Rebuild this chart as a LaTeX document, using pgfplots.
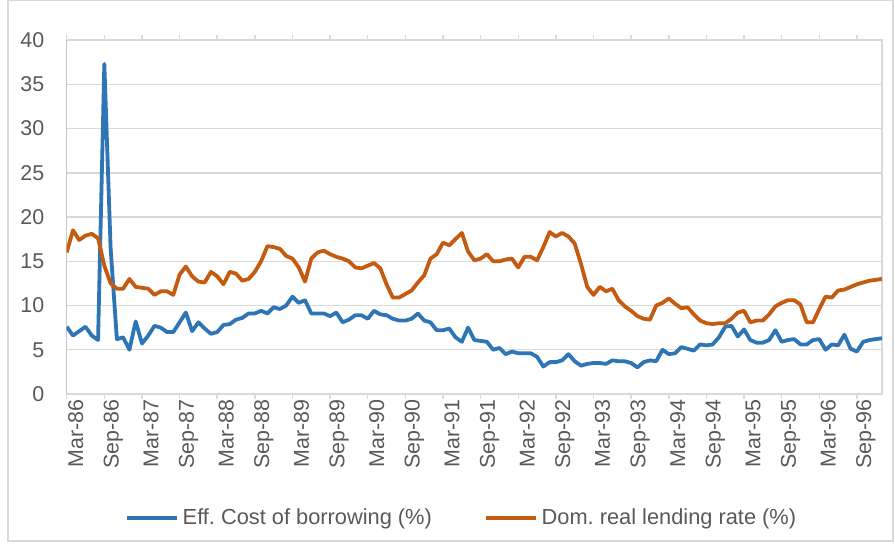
\documentclass[border=0pt]{standalone}
\usepackage{pgfplots}
\usepackage{pgfplotstable}
\usepackage{fontspec}
\setmainfont{Liberation Sans}
\pgfplotsset{compat=1.18}
\definecolor{effblue}{HTML}{2E75B6}
\definecolor{domorange}{HTML}{C55A11}
\definecolor{txtgray}{HTML}{595959}
\definecolor{gridgray}{HTML}{D9D9D9}
\definecolor{axgray}{HTML}{A6A6A6}
\pgfplotstableread{
i eff dom
0 7.6 16.0
1 6.6 18.5
2 7.1 17.4
3 7.6 17.9
4 6.6 18.1
5 6.1 17.6
6 37.3 14.5
7 16.5 12.5
8 6.2 11.9
9 6.4 11.9
10 5.0 13.0
11 8.2 12.1
12 5.7 12.0
13 6.6 11.9
14 7.7 11.2
15 7.5 11.6
16 7.0 11.6
17 7.0 11.2
18 8.1 13.5
19 9.2 14.4
20 7.1 13.3
21 8.1 12.7
22 7.4 12.6
23 6.8 13.8
24 7.0 13.3
25 7.8 12.4
26 7.9 13.8
27 8.4 13.6
28 8.6 12.8
29 9.1 13.0
30 9.1 13.8
31 9.4 15.0
32 9.1 16.7
33 9.8 16.6
34 9.6 16.4
35 10.0 15.6
36 11.0 15.3
37 10.3 14.3
38 10.6 12.7
39 9.1 15.3
40 9.1 16.0
41 9.1 16.2
42 8.8 15.8
43 9.2 15.5
44 8.1 15.3
45 8.4 15.0
46 8.9 14.3
47 8.9 14.2
48 8.5 14.5
49 9.4 14.8
50 9.0 14.2
51 8.9 12.4
52 8.5 10.9
53 8.3 10.9
54 8.3 11.3
55 8.5 11.7
56 9.1 12.6
57 8.3 13.4
58 8.1 15.3
59 7.2 15.8
60 7.2 17.1
61 7.4 16.8
62 6.4 17.5
63 5.9 18.2
64 7.5 16.1
65 6.1 15.1
66 6.0 15.3
67 5.9 15.8
68 5.0 15.0
69 5.2 15.0
70 4.5 15.2
71 4.8 15.3
72 4.6 14.3
73 4.6 15.5
74 4.6 15.5
75 4.2 15.1
76 3.1 16.6
77 3.6 18.3
78 3.6 17.8
79 3.8 18.2
80 4.5 17.8
81 3.7 17.0
82 3.2 14.7
83 3.4 12.1
84 3.5 11.2
85 3.5 12.1
86 3.4 11.6
87 3.8 11.9
88 3.7 10.6
89 3.7 9.9
90 3.5 9.4
91 3.0 8.8
92 3.6 8.5
93 3.8 8.4
94 3.7 10.0
95 5.0 10.3
96 4.5 10.8
97 4.6 10.2
98 5.3 9.7
99 5.1 9.8
100 4.9 9.0
101 5.6 8.3
102 5.5 8.0
103 5.6 7.9
104 6.4 8.0
105 7.6 8.0
106 7.7 8.5
107 6.5 9.2
108 7.3 9.4
109 6.1 8.1
110 5.8 8.3
111 5.8 8.3
112 6.1 9.0
113 7.2 9.9
114 5.9 10.3
115 6.1 10.6
116 6.2 10.6
117 5.6 10.1
118 5.6 8.1
119 6.1 8.1
120 6.2 9.6
121 5.0 11.0
122 5.6 10.9
123 5.5 11.7
124 6.7 11.8
125 5.1 12.1
126 4.8 12.4
127 5.9 12.6
128 6.1 12.8
129 6.2 12.9
130 6.3 13.0
}\datatable
\begin{document}
\begin{tikzpicture}
\useasboundingbox (0,0) rectangle (447.5pt,273pt);
\draw[gridgray, line width=0.6pt] (4pt,2.5pt) rectangle (446.5pt,272.7pt);
\begin{axis}[
  at={(33.35pt,76pt)}, anchor=south west,
  scale only axis, width=407.65pt, height=177pt,
  xmin=0, xmax=130, ymin=0, ymax=40,
  xtick={0,6,...,126},
  xticklabels={Mar-86,Sep-86,Mar-87,Sep-87,Mar-88,Sep-88,Mar-89,Sep-89,Mar-90,Sep-90,Mar-91,Sep-91,Mar-92,Sep-92,Mar-93,Sep-93,Mar-94,Sep-94,Mar-95,Sep-95,Mar-96,Sep-96},
  ytick={0,5,...,40},
  /pgf/number format/assume math mode=true,
  tick label style={font=\fontsize{10.7pt}{12pt}\selectfont, text=txtgray},
  xticklabel style={rotate=90, anchor=east, inner sep=0pt, yshift=-4.5pt},
  yticklabel style={anchor=east, inner sep=0pt, xshift=-8.5pt},
  tick align=outside,
  xtick style={draw=gridgray, line width=0.75pt},
  major tick length=2.5pt,
  ytick style={draw=none},
  ymajorgrids,
  grid style={gridgray, line width=0.75pt},
  axis line style={gridgray, line width=0.75pt},
  legend style={at={(0.4855,-0.350)}, anchor=center, draw=none, fill=none,
    font=\fontsize{10.9pt}{12pt}\selectfont, text=txtgray,
    legend columns=2,
    /tikz/every even column/.append style={column sep=24pt}},
  legend image code/.code={\draw[#1] (0pt,0pt) -- (25pt,0pt);},
  legend cell align=left,
]
\draw[axgray, line width=0.75pt] (rel axis cs:0,0) -- (rel axis cs:0,1);
\addplot[effblue, line width=1.9pt, line join=round, no marks] table[x=i, y=eff] {\datatable};
\addlegendentry{Eff.\ Cost of borrowing (\%)}
\addplot[domorange, line width=1.9pt, line join=round, no marks] table[x=i, y=dom] {\datatable};
\addlegendentry{Dom.\ real lending rate (\%)}
\end{axis}
\end{tikzpicture}
\end{document}
